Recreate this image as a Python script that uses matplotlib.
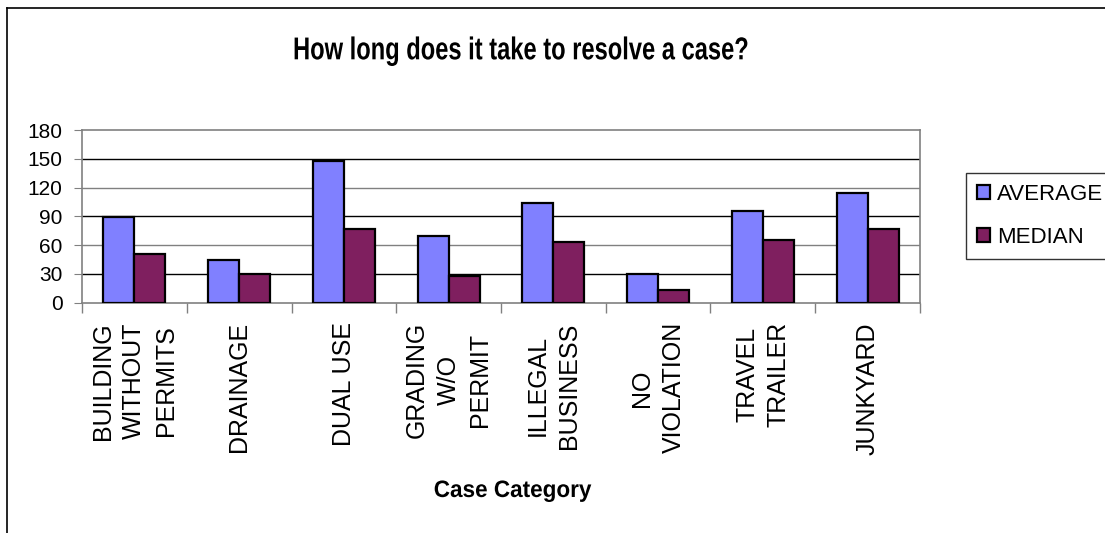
import numpy as np
import matplotlib.pyplot as plt
from matplotlib.lines import Line2D
from matplotlib.textpath import TextPath
from matplotlib.patches import PathPatch
from matplotlib.font_manager import FontProperties
from matplotlib.transforms import Affine2D, IdentityTransform

categories = ['BUILDING\nWITHOUT\nPERMITS', 'DRAINAGE', 'DUAL USE', 'GRADING\nW/O\nPERMIT',
              'ILLEGAL\nBUSINESS', 'NO\nVIOLATION', 'TRAVEL\nTRAILER', 'JUNKYARD']
average = [89, 44, 148, 70, 104, 30, 96, 114]
median = [51, 30, 77, 28, 63, 13, 65, 77]
yticks = [0, 30, 60, 90, 120, 150, 180]

plt.rcParams['font.family'] = ['Liberation Sans', 'DejaVu Sans']

W, H = 1105, 533
fig = plt.figure(figsize=(W/100, H/100), dpi=100)
ax = fig.add_axes([82/W, 1-302.7/H, (920-82)/W, 172.7/H])

x = np.arange(len(categories))
w = 0.296
ax.bar(x - w/2, average, w, color='#8080FF', edgecolor='black', linewidth=1.6, label='AVERAGE', zorder=3)
ax.bar(x + w/2, median, w, color='#7F1F5F', edgecolor='black', linewidth=1.6, label='MEDIAN', zorder=3)

ax.set_xlim(-0.5, len(categories) - 0.5)
ax.set_ylim(0, 180)
ax.set_yticks(yticks)
ax.tick_params(axis='y', labelsize=15, length=6, color='#808080', pad=8)
ax.set_xticks(x)
ax.set_xticklabels(categories, rotation=90, fontsize=18, va='top', ha='center',
                   multialignment='center', linespacing=1.4)
ax.tick_params(axis='x', length=0, pad=14)
ax.set_xticks(np.arange(len(categories) + 1) - 0.5, minor=True)
ax.tick_params(axis='x', which='minor', length=7, color='#808080', width=1)

for v in yticks[1:-1]:
    ax.axhline(v, color='black' if v % 60 else '#808080', linewidth=1, zorder=1)
for s in ax.spines.values():
    s.set_color('#808080')
    s.set_linewidth(1.2)


# condensed bold text (the original uses a narrow font)
def narrow_text(s, cx, cy, size, sx):
    tp = TextPath((0, 0), s, size=size, prop=FontProperties(family='Liberation Sans', weight='bold'))
    ext = tp.get_extents()
    tr = Affine2D().translate(-(ext.x0 + ext.x1)/2, -size*0.716/2).scale(sx, 1).translate(cx, H - cy)
    fig.add_artist(PathPatch(tp, transform=tr + IdentityTransform(), color='black', lw=0))


narrow_text('How long does it take to resolve a case?', 521, 48, 31.6, 0.75)
narrow_text('Case Category', 513, 488.5, 23.7, 0.95)

leg = fig.legend(loc='upper left', bbox_to_anchor=(966/W, 1-172.7/H), fontsize=16,
                 frameon=True, fancybox=False, edgecolor='black', handlelength=0.6, handleheight=0.6,
                 handletextpad=0.3, labelspacing=1.0, borderpad=0.5, borderaxespad=0)
leg.get_frame().set_linewidth(1)

fig.add_artist(Line2D([7/W, 1], [1-8/H, 1-8/H], color='black', linewidth=1.2))
fig.add_artist(Line2D([7/W, 7/W], [0, 1-8/H], color='black', linewidth=1.2))

plt.savefig('out.png', dpi=100)
